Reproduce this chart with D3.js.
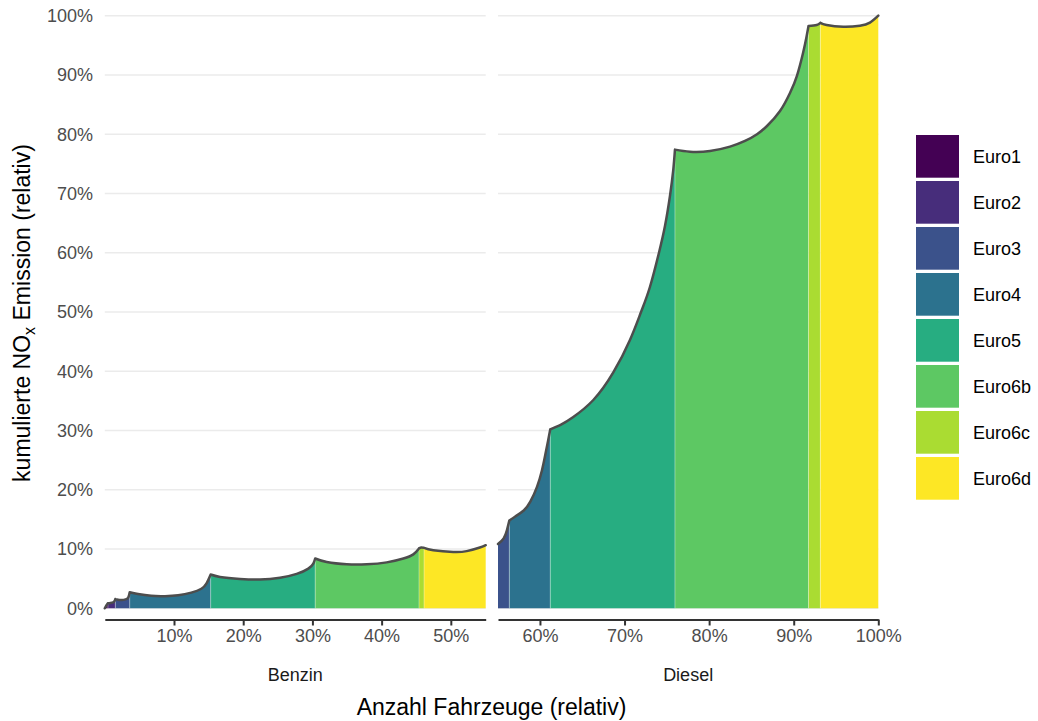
<!DOCTYPE html>
<html>
<head>
<meta charset="utf-8">
<script src="https://cdn.jsdelivr.net/npm/d3@7/dist/d3.min.js"></script>
<style>
  html, body { margin: 0; padding: 0; background: #fff; }
  text { font-family: "Liberation Sans", Arial, Helvetica, sans-serif; }
</style>
</head>
<body>
<svg id="chart" width="1038" height="721"></svg>
<script>
// ---------------- data ----------------
const classes = ["Euro1", "Euro2", "Euro3", "Euro4", "Euro5", "Euro6b", "Euro6c", "Euro6d"];
const classColors = ["#440154", "#472D7B", "#3B528B", "#2C728E", "#27AD81", "#5DC863", "#AADC32", "#FDE725"];
const facets = ["Benzin", "Diesel"];
const benzinDomain = [0, 55.04];
const dieselDomain = [55.04, 100];
const yTicks = [0, 10, 20, 30, 40, 50, 60, 70, 80, 90, 100];
const benzinTicks = [10, 20, 30, 40, 50];
const dieselTicks = [60, 70, 80, 90, 100];

// [class, Anzahl Fahrzeuge %, kumulierte Emission %]
const benzinCurve = [
  ["Euro1", 0, 0], ["Euro1", 0.25, 0.55], ["Euro1", 0.45, 0.85],
  ["Euro2", 0.45, 0.85], ["Euro2", 0.8, 0.9], ["Euro2", 1.2, 1.0], ["Euro2", 1.4, 1.2], ["Euro2", 1.52, 1.55],
  ["Euro3", 1.52, 1.55], ["Euro3", 1.9, 1.45], ["Euro3", 2.4, 1.4], ["Euro3", 3.0, 1.5], ["Euro3", 3.4, 1.85], ["Euro3", 3.6, 2.7],
  ["Euro4", 3.6, 2.7], ["Euro4", 4.8, 2.4], ["Euro4", 6.7, 2.1], ["Euro4", 8.7, 2.05], ["Euro4", 10.6, 2.2], ["Euro4", 12.5, 2.65], ["Euro4", 13.95, 3.3], ["Euro4", 14.7, 4.2], ["Euro4", 15.3, 5.7],
  ["Euro5", 15.3, 5.7], ["Euro5", 16.65, 5.3], ["Euro5", 19.54, 4.95], ["Euro5", 22.43, 4.85], ["Euro5", 25.32, 5.15], ["Euro5", 27.73, 5.8], ["Euro5", 29.41, 6.7], ["Euro5", 30.13, 7.55], ["Euro5", 30.4, 8.4],
  ["Euro6b", 30.4, 8.4], ["Euro6b", 32.07, 7.8], ["Euro6b", 34.96, 7.42], ["Euro6b", 37.85, 7.42], ["Euro6b", 40.74, 7.75], ["Euro6b", 43.14, 8.4], ["Euro6b", 44.58, 9.1], ["Euro6b", 45.4, 10.1],
  ["Euro6c", 45.4, 10.1], ["Euro6c", 45.75, 10.25], ["Euro6c", 46.13, 10.2],
  ["Euro6d", 46.13, 10.2], ["Euro6d", 47.47, 9.8], ["Euro6d", 50.36, 9.5], ["Euro6d", 52.3, 9.65], ["Euro6d", 54.2, 10.25], ["Euro6d", 55.04, 10.65]
];
const dieselCurve = [
  ["Euro3", 55.04, 10.85], ["Euro3", 55.71, 11.8], ["Euro3", 56.1, 13.2], ["Euro3", 56.38, 14.8],
  ["Euro4", 56.38, 14.8], ["Euro4", 57.08, 15.5], ["Euro4", 58.08, 16.5], ["Euro4", 58.86, 18.0], ["Euro4", 59.65, 20.5], ["Euro4", 60.24, 23.3], ["Euro4", 60.63, 25.9], ["Euro4", 60.95, 28.2], ["Euro4", 61.22, 30.2],
  ["Euro5", 61.22, 30.2], ["Euro5", 62.49, 31.0], ["Euro5", 63.94, 32.29], ["Euro5", 66.31, 35.15], ["Euro5", 68.67, 39.8], ["Euro5", 70.64, 45.28], ["Euro5", 71.95, 50.0], ["Euro5", 73.0, 54.22], ["Euro5", 74.07, 60.0], ["Euro5", 74.78, 64.5], ["Euro5", 75.37, 69.58], ["Euro5", 75.76, 73.97], ["Euro5", 75.96, 77.4],
  ["Euro6b", 75.96, 77.4], ["Euro6b", 77.74, 77.05], ["Euro6b", 80.1, 77.17], ["Euro6b", 82.47, 77.91], ["Euro6b", 84.24, 78.86], ["Euro6b", 85.66, 80.0], ["Euro6b", 86.84, 81.39], ["Euro6b", 88.38, 83.92], ["Euro6b", 89.56, 86.96], ["Euro6b", 90.39, 89.9], ["Euro6b", 91.13, 93.87], ["Euro6b", 91.51, 96.41], ["Euro6b", 91.75, 98.26],
  ["Euro6c", 91.75, 98.26], ["Euro6c", 92.71, 98.43], ["Euro6c", 93.15, 98.8],
  ["Euro6d", 93.15, 98.8], ["Euro6d", 93.89, 98.43], ["Euro6d", 95.86, 98.14], ["Euro6d", 97.83, 98.31], ["Euro6d", 99.01, 98.82], ["Euro6d", 100, 100]
];

// ---------------- drawing ----------------
const svg = d3.select("#chart");
const FONT_SMALL = 18, FONT_TITLE = 23;
const y = d3.scaleLinear().domain([0, 100]).range([608.3, 15.7]);
const color = d3.scaleOrdinal().domain(classes).range(classColors);
const curve = d3.curveNatural;

const panels = [
  { name: facets[0], x: d3.scaleLinear().domain(benzinDomain).range([104.8, 485.7]), ticks: benzinTicks, data: benzinCurve },
  { name: facets[1], x: d3.scaleLinear().domain(dieselDomain).range([498, 878.3]), ticks: dieselTicks, data: dieselCurve }
];

const pct = d => d + "%";

panels.forEach(p => {
  const [x0, x1] = p.x.range();
  const g = svg.append("g");
  // gridlines
  g.selectAll("line.grid").data(yTicks).join("line")
    .attr("x1", x0).attr("x2", x1)
    .attr("y1", d => y(d)).attr("y2", d => y(d))
    .attr("stroke", "#ebebeb").attr("stroke-width", 1.4);

  const segs = d3.groups(p.data, d => d[0]);
  const area = d3.area().x(d => p.x(d[1])).y0(y(0)).y1(d => y(d[2])).curve(curve);
  const line = d3.line().x(d => p.x(d[1])).y(d => y(d[2])).curve(curve);

  g.selectAll("path.area").data(segs).join("path")
    .attr("d", d => area(d[1]))
    .attr("fill", d => color(d[0]));

  // faint separators between classes
  g.selectAll("line.sep").data(segs.slice(1)).join("line")
    .attr("x1", d => p.x(d[1][0][1])).attr("x2", d => p.x(d[1][0][1]))
    .attr("y1", y(0)).attr("y2", d => y(d[1][0][2]))
    .attr("stroke", "#ffffff").attr("stroke-opacity", 0.35).attr("stroke-width", 1);

  g.append("path")
    .attr("d", segs.map(s => line(s[1])).join(""))
    .attr("fill", "none").attr("stroke", "#4d4d4d").attr("stroke-width", 2.5)
    .attr("stroke-linecap", "round").attr("stroke-linejoin", "round");

  // x axis
  const ax = svg.append("g").attr("transform", "translate(0,619.5)");
  ax.call(d3.axisBottom(p.x).tickValues(p.ticks).tickFormat(pct).tickSize(6).tickSizeOuter(0));
  ax.select(".domain").attr("stroke", "#333").attr("stroke-width", 2);
  ax.selectAll(".tick line").attr("stroke", "#333").attr("stroke-width", 2);
  ax.selectAll(".tick text").attr("fill", "#4d4d4d").attr("font-size", FONT_SMALL)
    .attr("font-family", "Liberation Sans, Arial, sans-serif").attr("dy", "0.71em").attr("y", 10);

  // strip label
  svg.append("text").attr("x", (x0 + x1) / 2).attr("y", 675).attr("dy", "0.35em")
    .attr("text-anchor", "middle").attr("font-size", FONT_SMALL).attr("fill", "#1a1a1a").text(p.name);
});

// y tick labels
svg.append("g").selectAll("text").data(yTicks).join("text")
  .attr("x", 93).attr("y", d => y(d)).attr("dy", "0.35em")
  .attr("text-anchor", "end").attr("font-size", FONT_SMALL).attr("fill", "#4d4d4d")
  .text(pct);

// axis titles
svg.append("text").attr("x", 491.5).attr("y", 707).attr("dy", "0.35em")
  .attr("text-anchor", "middle").attr("font-size", FONT_TITLE).attr("fill", "#000")
  .text("Anzahl Fahrzeuge (relativ)");

const yt = svg.append("text").attr("transform", "translate(22,313) rotate(-90)")
  .attr("dy", "0.35em").attr("text-anchor", "middle").attr("font-size", FONT_TITLE).attr("fill", "#000");
yt.append("tspan").text("kumulierte NO");
yt.append("tspan").attr("font-size", FONT_TITLE * 0.7).attr("dy", "0.3em").text("x");
yt.append("tspan").attr("dy", "-0.21em").text(" Emission (relativ)");

// legend
const lg = svg.append("g").selectAll("g").data(classes).join("g")
  .attr("transform", (d, i) => `translate(916,${135 + i * 46})`);
lg.append("rect").attr("width", 43).attr("height", 42.7).attr("fill", d => color(d));
lg.append("text").attr("x", 57).attr("y", 21.35).attr("dy", "0.35em")
  .attr("font-size", FONT_SMALL).attr("fill", "#000").text(d => d);
</script>
</body>
</html>
